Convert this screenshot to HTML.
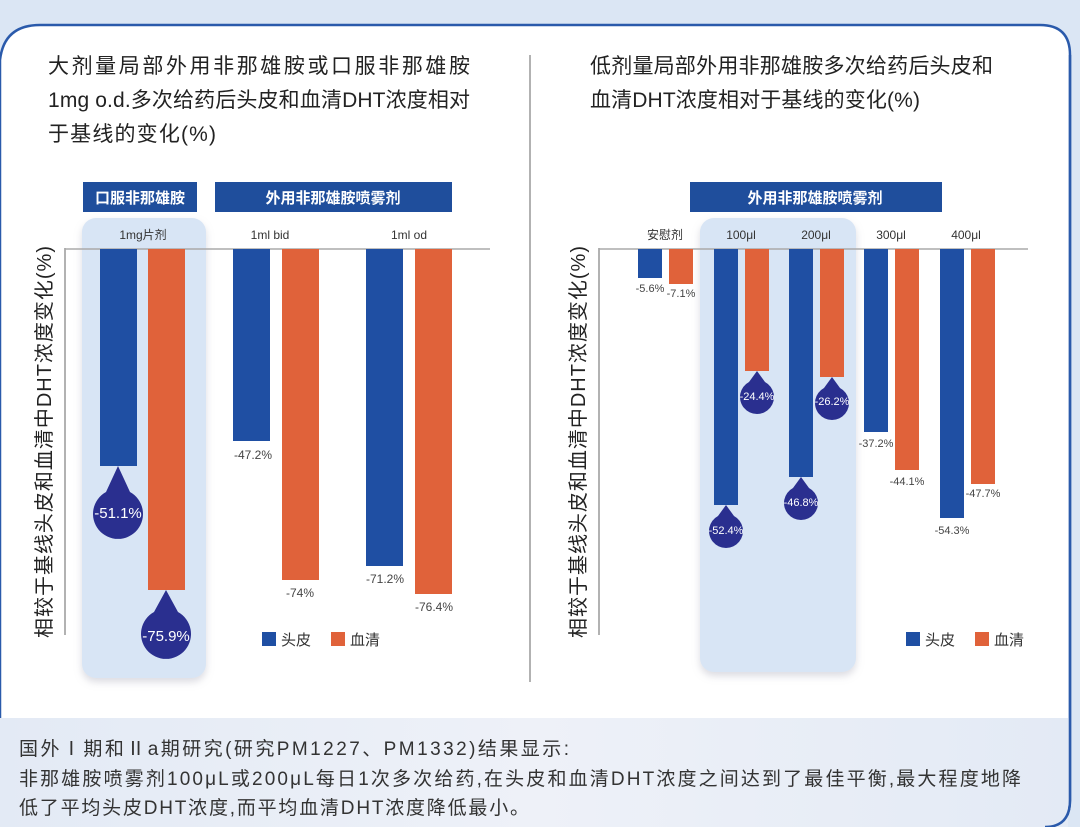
<!DOCTYPE html>
<html><head><meta charset="utf-8"><style>
html,body{margin:0;padding:0;width:1080px;height:827px;overflow:hidden;background:#dbe6f4;}
svg{display:block}
text{font-family:"Liberation Sans","Noto Sans CJK SC",sans-serif;}
</style></head><body>
<svg width="1080" height="827" viewBox="0 0 1080 827" xmlns="http://www.w3.org/2000/svg">
<defs>
<linearGradient id="bot" x1="0" x2="1" y1="0" y2="0"><stop offset="0" stop-color="#e3eaf5"/><stop offset="0.5" stop-color="#eef1f8"/><stop offset="1" stop-color="#e3eaf5"/></linearGradient>
<filter id="sh" x="-20%" y="-10%" width="140%" height="120%"><feDropShadow dx="0" dy="4" stdDeviation="4" flood-color="#99a" flood-opacity="0.35"/></filter>
</defs>
<rect x="0" y="0" width="1080" height="827" fill="#dbe6f4"/>
<path d="M0,60 Q4,25 40,25 L1040,25 Q1070,25 1070,55 L1070,800 Q1070,827 1045,827 L0,827 Z" fill="#fff" stroke="#2a5aab" stroke-width="2.5"/>
<rect x="0" y="718" width="1068" height="109" fill="url(#bot)"/>
<path d="M1070,55 L1070,800 Q1070,827 1045,827" fill="none" stroke="#2a5aab" stroke-width="2.5"/>

<!-- titles -->
<g font-size="21" fill="#222">
<text x="48" y="73" textLength="422" lengthAdjust="spacing">大剂量局部外用非那雄胺或口服非那雄胺</text>
<text x="48" y="107" textLength="422" lengthAdjust="spacing">1mg o.d.多次给药后头皮和血清DHT浓度相对</text>
<text x="48" y="141" textLength="168" lengthAdjust="spacing">于基线的变化(%)</text>
<text x="590" y="73" textLength="403" lengthAdjust="spacing">低剂量局部外用非那雄胺多次给药后头皮和</text>
<text x="590" y="107" textLength="330" lengthAdjust="spacing">血清DHT浓度相对于基线的变化(%)</text>
</g>
<line x1="530" y1="55" x2="530" y2="682" stroke="#999" stroke-width="1.5"/>

<!-- LEFT CHART -->
<rect x="82" y="218" width="124" height="460" rx="14" fill="#d8e5f5" filter="url(#sh)"/>
<rect x="83" y="182" width="114" height="30" fill="#1f4e9c"/>
<rect x="215" y="182" width="237" height="30" fill="#1f4e9c"/>
<rect x="690" y="182" width="252" height="30" fill="#1f4e9c"/>
<g fill="#fff" font-size="15" font-weight="bold" text-anchor="middle">
<text x="140" y="203">口服非那雄胺</text>
<text x="333" y="203">外用非那雄胺喷雾剂</text>
<text x="815" y="203">外用非那雄胺喷雾剂</text>
</g>
<g font-size="12" fill="#333" text-anchor="middle">
<text x="143" y="239">1mg片剂</text>
<text x="270" y="239">1ml bid</text>
<text x="409" y="239">1ml od</text>
</g>
<line x1="65" y1="248" x2="65" y2="635" stroke="#999" stroke-width="1.5"/>
<line x1="65" y1="249" x2="490" y2="249" stroke="#aaa" stroke-width="1.5"/>
<rect x="100" y="249" width="37" height="217" fill="#1f4fa3"/>
<rect x="148" y="249" width="37" height="341" fill="#e0623a"/>
<rect x="233" y="249" width="37" height="192" fill="#1f4fa3"/>
<rect x="282" y="249" width="37" height="331" fill="#e0623a"/>
<rect x="366" y="249" width="37" height="317" fill="#1f4fa3"/>
<rect x="415" y="249" width="37" height="345" fill="#e0623a"/>
<path d="M118,466 L130,492 A25,25 0 1 1 106,492 Z" fill="#2a2f8f"/>
<text x="118" y="518" font-size="15" fill="#fff" text-anchor="middle">-51.1%</text>
<path d="M166,590 L178,612 A25,25 0 1 1 154,612 Z" fill="#2a2f8f"/>
<text x="166" y="641" font-size="15" fill="#fff" text-anchor="middle">-75.9%</text>
<g font-size="12" fill="#444" text-anchor="middle">
<text x="253" y="459">-47.2%</text>
<text x="300" y="597">-74%</text>
<text x="385" y="583">-71.2%</text>
<text x="434" y="611">-76.4%</text>
</g>
<rect x="262" y="632" width="14" height="14" fill="#1f4fa3"/>
<text x="281" y="645" font-size="15" fill="#333">头皮</text>
<rect x="331" y="632" width="14" height="14" fill="#e0623a"/>
<text x="350" y="645" font-size="15" fill="#333">血清</text>
<text transform="translate(51,442) rotate(-90)" font-size="20" fill="#222" text-anchor="middle" textLength="392" lengthAdjust="spacing">相较于基线头皮和血清中DHT浓度变化(%)</text>

<!-- RIGHT CHART -->
<rect x="700" y="218" width="156" height="454" rx="14" fill="#d8e5f5" filter="url(#sh)"/>
<g font-size="12" fill="#333" text-anchor="middle">
<text x="665" y="239">安慰剂</text>
<text x="741" y="239">100μl</text>
<text x="816" y="239">200μl</text>
<text x="891" y="239">300μl</text>
<text x="966" y="239">400μl</text>
</g>
<line x1="599" y1="248" x2="599" y2="635" stroke="#999" stroke-width="1.5"/>
<line x1="599" y1="249" x2="1028" y2="249" stroke="#aaa" stroke-width="1.5"/>
<rect x="638" y="249" width="24" height="29" fill="#1f4fa3"/>
<rect x="669" y="249" width="24" height="35" fill="#e0623a"/>
<rect x="714" y="249" width="24" height="256" fill="#1f4fa3"/>
<rect x="745" y="249" width="24" height="122" fill="#e0623a"/>
<rect x="789" y="249" width="24" height="228" fill="#1f4fa3"/>
<rect x="820" y="249" width="24" height="128" fill="#e0623a"/>
<rect x="864" y="249" width="24" height="183" fill="#1f4fa3"/>
<rect x="895" y="249" width="24" height="221" fill="#e0623a"/>
<rect x="940" y="249" width="24" height="269" fill="#1f4fa3"/>
<rect x="971" y="249" width="24" height="235" fill="#e0623a"/>
<path d="M757,371 L765,382 A17,17 0 1 1 749,382 Z" fill="#2a2f8f"/>
<text x="757" y="400" font-size="11" fill="#fff" text-anchor="middle">-24.4%</text>
<path d="M832,377 L840,388 A17,17 0 1 1 824,388 Z" fill="#2a2f8f"/>
<text x="832" y="405" font-size="11" fill="#fff" text-anchor="middle">-26.2%</text>
<path d="M726,505 L734,516 A17,17 0 1 1 718,516 Z" fill="#2a2f8f"/>
<text x="726" y="534" font-size="11" fill="#fff" text-anchor="middle">-52.4%</text>
<path d="M801,477 L809,488 A17,17 0 1 1 793,488 Z" fill="#2a2f8f"/>
<text x="801" y="506" font-size="11" fill="#fff" text-anchor="middle">-46.8%</text>
<g font-size="11" fill="#444" text-anchor="middle">
<text x="650" y="292">-5.6%</text>
<text x="681" y="297">-7.1%</text>
<text x="876" y="447">-37.2%</text>
<text x="907" y="485">-44.1%</text>
<text x="952" y="534">-54.3%</text>
<text x="983" y="497">-47.7%</text>
</g>
<rect x="906" y="632" width="14" height="14" fill="#1f4fa3"/>
<text x="925" y="645" font-size="15" fill="#333">头皮</text>
<rect x="975" y="632" width="14" height="14" fill="#e0623a"/>
<text x="994" y="645" font-size="15" fill="#333">血清</text>
<text transform="translate(585,442) rotate(-90)" font-size="20" fill="#222" text-anchor="middle" textLength="392" lengthAdjust="spacing">相较于基线头皮和血清中DHT浓度变化(%)</text>

<!-- bottom text -->
<g font-size="19" fill="#333">
<text x="19" y="755" textLength="550" lengthAdjust="spacing">国外Ⅰ期和Ⅱa期研究(研究PM1227、PM1332)结果显示:</text>
<text x="19" y="785" textLength="1002" lengthAdjust="spacing">非那雄胺喷雾剂100μL或200μL每日1次多次给药,在头皮和血清DHT浓度之间达到了最佳平衡,最大程度地降</text>
<text x="19" y="814" textLength="510" lengthAdjust="spacing">低了平均头皮DHT浓度,而平均血清DHT浓度降低最小。</text>
</g>
</svg>
</body></html>
